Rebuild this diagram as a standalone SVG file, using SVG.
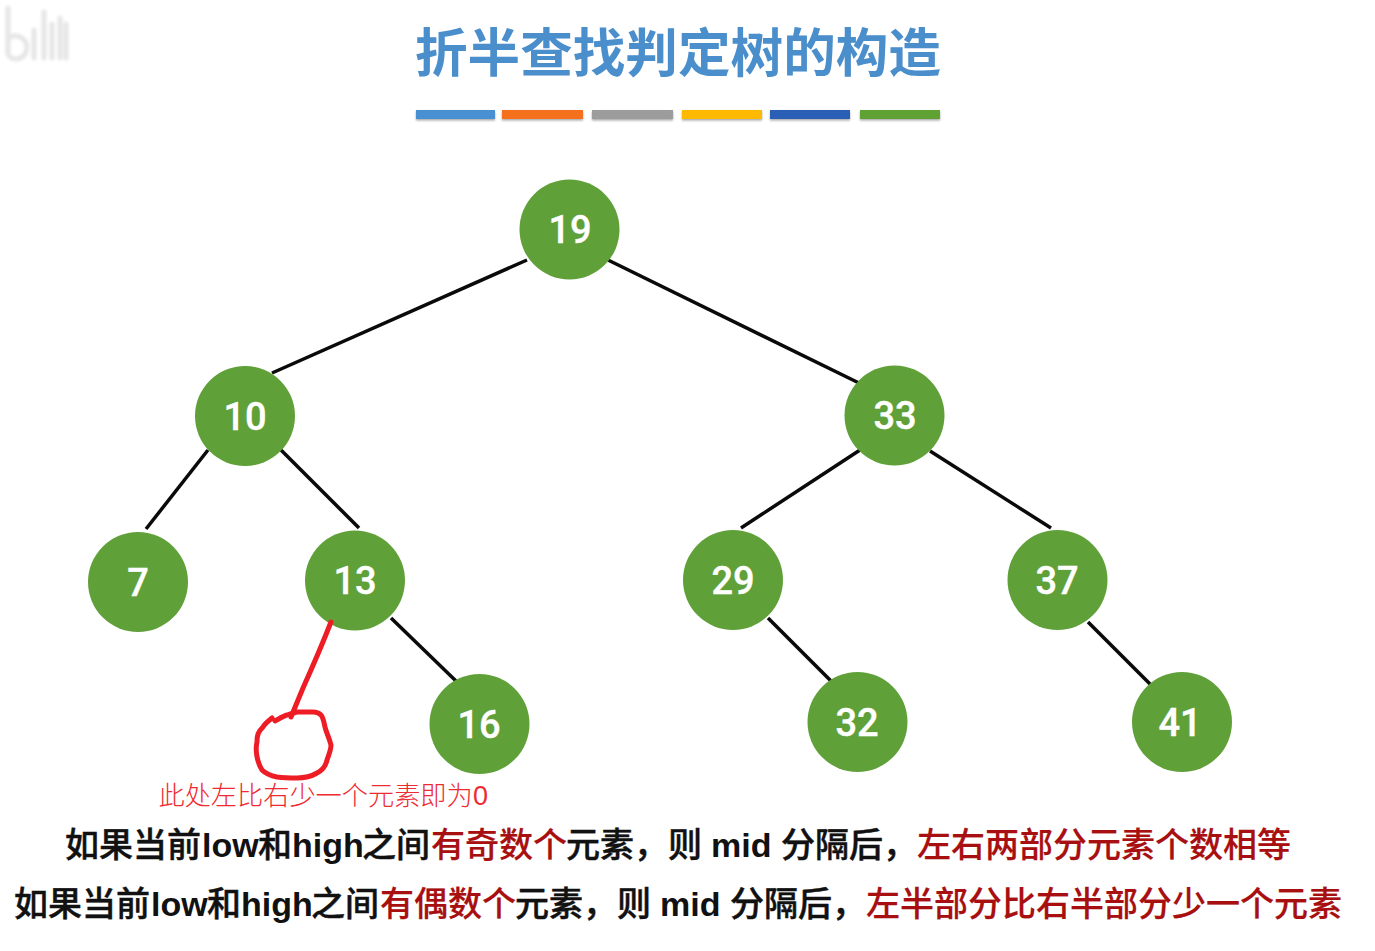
<svg xmlns="http://www.w3.org/2000/svg" width="1375" height="951" viewBox="0 0 1375 951">
<style>
.cjk{font-family:"Liberation Sans","Noto Sans CJK SC",sans-serif}
.title{font-size:52.6px;font-weight:700;fill:#4a8ecb}
.n circle{fill:#60a039}
.n text{font-family:Roboto,"Liberation Sans",sans-serif;font-size:38px;font-weight:500;fill:#fff;text-anchor:middle;stroke:#fff;stroke-width:.4}
.e line{stroke:#0a0a0a;stroke-width:3.5;stroke-linecap:butt}
.b{font-size:34px;font-weight:500;fill:#111;stroke:#111;stroke-width:.45}
.b .r{fill:#a80f10;stroke:#a80f10;stroke-width:.2}
.lat{font-weight:700;stroke-width:0}
.hand{fill:none;stroke:#ee1c25;stroke-width:5;stroke-linecap:round;stroke-linejoin:round}
.note{font-family:"Noto Sans CJK SC",sans-serif;font-size:26.200px;font-weight:300;fill:#ee2b30}
.note0{font-family:"Liberation Sans",sans-serif;font-size:27px;font-weight:400;fill:#ee2b30}
.wm{fill:none;stroke:#e6e6e6;stroke-width:5;stroke-linecap:round}
</style>
<defs><filter id="s" x="-5%" y="-30%" width="110%" height="180%"><feDropShadow dx="0" dy="1.5" stdDeviation="1" flood-color="#000" flood-opacity=".35"/></filter>
<filter id="bl"><feGaussianBlur stdDeviation="1.800"/></filter></defs>
<g id="watermark" filter="url(#bl)" class="wm">
<path d="M8 8V54M8 38C18 32 30 40 26 52C22 62 10 60 8 54"/>
<path d="M34 30V58M44 12V58M52 24V58M60 18V58M66 24V58"/>
</g>
<text id="title" class="cjk title" x="415" y="72">折半查找判定树的构造</text>
<g id="title-bars" filter="url(#s)">
<rect x="416" y="110" width="79" height="9" fill="#4a90d2"/>
<rect x="502" y="110" width="81" height="9" fill="#f4701a"/>
<rect x="592" y="110" width="81" height="9" fill="#9c9c9c"/>
<rect x="682" y="110" width="80" height="9" fill="#ffb900"/>
<rect x="770" y="110" width="80" height="9" fill="#2a5fb5"/>
<rect x="860" y="110" width="80" height="9" fill="#5ea132"/>
</g>
<g id="connectors" class="e">
<line x1="527" y1="260" x2="272" y2="373"/>
<line x1="608" y1="260" x2="859" y2="383"/>
<line x1="208" y1="450" x2="146" y2="529"/>
<line x1="281" y1="450" x2="359" y2="528"/>
<line x1="860" y1="450" x2="741" y2="528"/>
<line x1="930" y1="451" x2="1051" y2="528"/>
<line x1="391" y1="618" x2="456" y2="681"/>
<line x1="768" y1="618" x2="832" y2="682"/>
<line x1="1088" y1="622" x2="1152" y2="686"/>
</g>
<g id="n19" class="n"><circle cx="569.500" cy="229.500" r="50"/><text x="570" y="243">19</text></g>
<g id="n10" class="n"><circle cx="245" cy="416" r="50"/><text x="245" y="430">10</text></g>
<g id="n33" class="n"><circle cx="894.500" cy="415.500" r="50"/><text x="895" y="429">33</text></g>
<g id="n7" class="n"><circle cx="138" cy="582" r="50"/><text x="138" y="596">7</text></g>
<g id="n13" class="n"><circle cx="355" cy="580.500" r="50"/><text x="355" y="594">13</text></g>
<g id="n29" class="n"><circle cx="733" cy="580" r="50"/><text x="733" y="594">29</text></g>
<g id="n37" class="n"><circle cx="1057.500" cy="580" r="50"/><text x="1057" y="594">37</text></g>
<g id="n16" class="n"><circle cx="479.500" cy="724" r="50"/><text x="479" y="738">16</text></g>
<g id="n32" class="n"><circle cx="857.500" cy="722" r="50"/><text x="857" y="736">32</text></g>
<g id="n41" class="n"><circle cx="1182" cy="722" r="50"/><text x="1180" y="736">41</text></g>
<g id="annotation">
<path class="hand" d="M331 622C322 645 312 668 303 688L291 717"/>
<path class="hand" d="M272 718C267 722 264 725 263 727C258 732 257 735 257 742C255 750 257 762 262 770C267 775 272 776 277 777C285 778 291 778 297 778C305 778 312 776 317 773C323 770 326 765 327 760C329 754 331 750 331 745C329 737 326 732 325 727C324 722 323 717 321 715C318 712 316 712 313 712C306 712 301 712 297 712C293 713 290 714 287 715C283 716 279 719 275 721"/>
<text class="note" x="158.500" y="805">此处左比右少一个元素即为</text>
<text class="note0" x="473" y="805">0</text>
</g>
<text id="line1" class="cjk b"><tspan x="65" y="857">如果当前</tspan><tspan x="202" class="lat">low</tspan><tspan x="258">和</tspan><tspan x="292" class="lat">high</tspan><tspan x="362">之间</tspan><tspan x="431" class="r">有奇数个</tspan><tspan x="566">元素，</tspan><tspan x="668">则</tspan><tspan x="711" class="lat">mid</tspan><tspan x="781">分隔后，</tspan><tspan x="917" class="r">左右两部分元素个数相等</tspan></text>
<text id="line2" class="cjk b"><tspan x="14" y="916">如果当前</tspan><tspan x="151" class="lat">low</tspan><tspan x="207">和</tspan><tspan x="241" class="lat">high</tspan><tspan x="311">之间</tspan><tspan x="380" class="r">有偶数个</tspan><tspan x="515">元素，</tspan><tspan x="617">则</tspan><tspan x="660" class="lat">mid</tspan><tspan x="730">分隔后，</tspan><tspan x="866" class="r">左半部分比右半部分少一个元素</tspan></text>
</svg>
